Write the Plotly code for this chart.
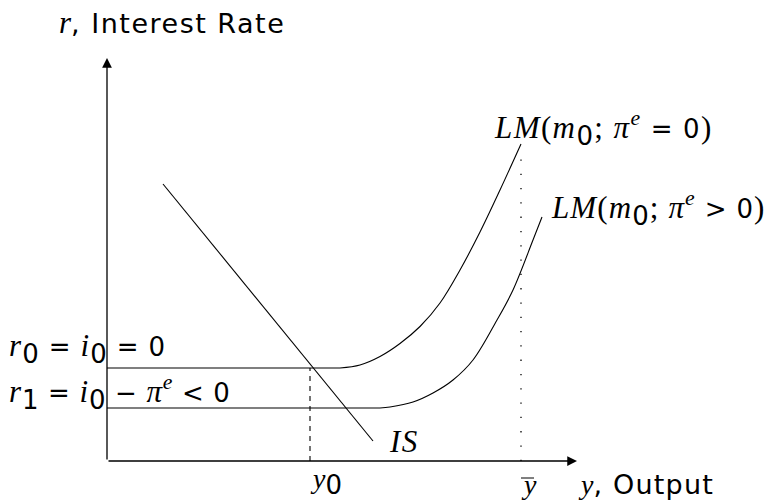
import plotly.graph_objects as go

# --- IS-LM diagram in the liquidity trap (model units) ---
axis_x_max = 9.4      # length of the output axis
axis_y_max = 8.06     # length of the interest-rate axis

r0 = 1.86             # r0 = i0 = 0
r1 = 1.06             # r1 = i0 - pi^e < 0
y0 = 4.06             # equilibrium output
y_bar = 8.28          # full-employment output
y_bar_top = 6.04      # top of the dotted guide at y-bar

# IS curve end points
is_x = [1.12, 5.32]
is_y = [5.54, 0.40]

# LM(m0; pi^e = 0): flat segment then rising branch
lm0_flat_x = [0.0, 4.66]
lm0_curve_x = [4.66, 5.06, 5.46, 5.86, 6.26, 6.66, 7.06, 7.46, 7.86, 8.28]
lm0_curve_y = [1.86, 1.92, 2.09, 2.35, 2.69, 3.16, 3.82, 4.58, 5.42, 6.34]

# LM(m0; pi^e > 0): flat segment then rising branch
lm1_flat_x = [0.0, 5.46]
lm1_curve_x = [5.46, 5.66, 6.12, 6.52, 6.92, 7.32, 7.80, 8.12, 8.52, 8.70]
lm1_curve_y = [1.06, 1.08, 1.18, 1.36, 1.62, 2.02, 2.82, 3.42, 4.42, 4.88]

SERIF = "Liberation Serif"
SANS = "DejaVu Sans"
MATH_SIZE = 31
DIGIT_SIZE = 26
WORD_SIZE = 27


def sans(t, size=DIGIT_SIZE):
    return (f"<span style='font-family:{SANS};font-style:normal;"
            f"font-size:{size}px'>{t}</span>")


def sub(t):
    return f"<sub>{t}</sub>"


def it(t):
    return f"<i>{t}</i>"


def spaced(t, px):
    return f"<span style='letter-spacing:{px}px'>{t}</span>"


SP = "&nbsp;"


def op(sym):
    # relation / operator symbol with thick spacing on both sides
    return SP + sans(sym) + SP


line = dict(color="black", width=1.1)

fig = go.Figure()

# flat (liquidity-trap) parts and rising LM branches
fig.add_trace(go.Scatter(x=lm0_flat_x, y=[r0, r0], mode="lines", line=line))
fig.add_trace(go.Scatter(x=lm0_curve_x, y=lm0_curve_y, mode="lines",
                         line=dict(line, shape="spline", smoothing=1.0)))
fig.add_trace(go.Scatter(x=lm1_flat_x, y=[r1, r1], mode="lines", line=line))
fig.add_trace(go.Scatter(x=lm1_curve_x, y=lm1_curve_y, mode="lines",
                         line=dict(line, shape="spline", smoothing=1.0)))

# IS curve
fig.add_trace(go.Scatter(x=is_x, y=is_y, mode="lines", line=line))

# guides at y0 (dashed) and y-bar (dotted)
fig.add_trace(go.Scatter(x=[y0, y0], y=[0, r0], mode="lines",
                         line=dict(color="black", width=1.1, dash="5px,5px")))
fig.add_trace(go.Scatter(x=[y_bar, y_bar], y=[0, y_bar_top], mode="lines",
                         line=dict(color="black", width=1.3, dash="1.3px,13px")))

annotations = []

# axes with arrow heads
for tip_x, tip_y in [(0, axis_y_max), (axis_x_max, 0)]:
    annotations.append(dict(x=tip_x, y=tip_y, ax=0, ay=0, xref="x", yref="y",
                            axref="x", ayref="y", text="", showarrow=True,
                            arrowhead=2, arrowsize=1.5, arrowwidth=1.3,
                            arrowcolor="black", standoff=0, startstandoff=0))


def label(x, y, text, xanchor="left", yanchor="middle", size=MATH_SIZE):
    annotations.append(dict(x=x, y=y, xref="x", yref="y", text=text,
                            showarrow=False, xanchor=xanchor, yanchor=yanchor,
                            borderpad=0,
                            font=dict(family=SERIF, size=size, color="black")))


label(-0.98, 8.78, it("r") + spaced(sans(", Interest Rate", WORD_SIZE), 1.5))
label(7.72, 6.66, spaced(it("LM") + "(" + it("m") + sub(sans("0")) + ";" + SP
      + it("π") + "<sup>" + it("e") + "</sup>" + op("=") + sans("0") + ")", 1.4))
label(8.86, 5.06, spaced(it("LM") + "(" + it("m") + sub(sans("0")) + ";" + SP
      + it("π") + "<sup>" + it("e") + "</sup>" + op("&gt;") + sans("0") + ")", 1.1))
label(-1.98, r0 + 0.40, spaced(it("r") + sub(sans("0")) + op("=") + it("i")
      + sub(sans("0")) + op("=") + sans("0"), 1.1))
label(-1.98, r1 + 0.32, spaced(it("r") + sub(sans("1")) + op("=") + it("i")
      + sub(sans("0")) + op("−") + it("π") + "<sup>" + it("e")
      + "</sup>" + op("&lt;") + sans("0"), 0.9))
label(5.62, 0.40, spaced(it("IS"), 1.5))
label(y0 - 0.02, -0.80, it("y") + sub(sans("0")), yanchor="bottom", size=28)
label(y_bar - 0.02, -0.80, it("y"), yanchor="bottom", size=28)
label(axis_x_max, -0.80, it("y") + spaced(sans(", Output", WORD_SIZE), 1.2),
      yanchor="bottom", size=28)

fig.update_layout(
    width=770, height=502,
    margin=dict(l=0, r=0, t=0, b=0),
    paper_bgcolor="white", plot_bgcolor="white",
    showlegend=False,
    annotations=annotations,
    shapes=[dict(type="line", xref="x", yref="y", x0=y_bar + 0.0, x1=y_bar + 0.26,
                 y0=-0.34, y1=-0.34, line=dict(color="black", width=1))],
    xaxis=dict(range=[-2.14, 13.26], visible=False, fixedrange=True),
    yaxis=dict(range=[-0.82, 9.22], visible=False, fixedrange=True),
)

fig.write_html("out.html")
